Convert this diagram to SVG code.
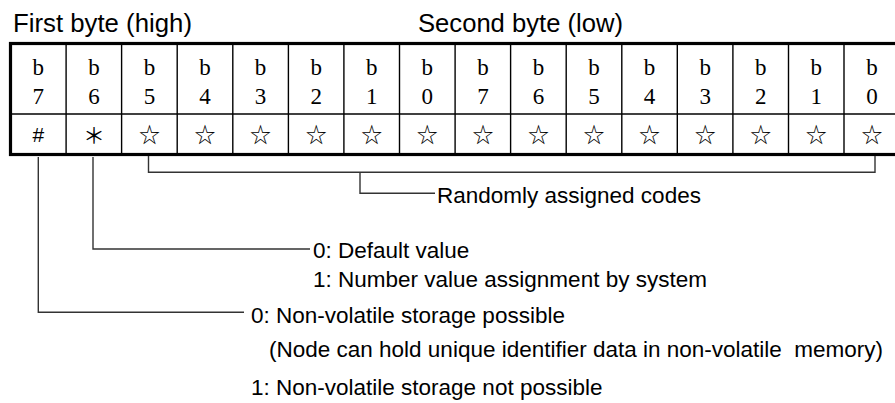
<svg xmlns="http://www.w3.org/2000/svg" width="895" height="403" viewBox="0 0 895 403">
<style>
.t{font-family:"Liberation Sans",Arial,sans-serif;fill:#000}
.title{font-size:25px}
.lbl{font-size:22.5px}
.bit{font-family:"Liberation Serif","Times New Roman",serif;font-size:23px;text-anchor:middle;fill:#000}
.sym{font-family:"Noto Sans CJK JP","DejaVu Sans",sans-serif;font-size:21px;text-anchor:middle;fill:#000;font-variant-emoji:text}
.grid{stroke:#000;stroke-width:1.4;fill:none}
.outer{stroke:#000;stroke-width:3.2;fill:none}
.conn{stroke:#333;stroke-width:1.4;fill:none}
</style>
<rect width="895" height="403" fill="#fff"/>
<g id="titles">
<text class="t title" x="13" y="32" textLength="179" lengthAdjust="spacingAndGlyphs">First byte (high)</text>
<text class="t title" x="418" y="32" textLength="205" lengthAdjust="spacingAndGlyphs">Second byte (low)</text>
</g>
<g id="table">
<g class="grid">
<line x1="10.5" y1="114" x2="899.6" y2="114"/>
<line x1="66.1" y1="43.5" x2="66.1" y2="154.5"/>
<line x1="121.6" y1="43.5" x2="121.6" y2="154.5"/>
<line x1="177.2" y1="43.5" x2="177.2" y2="154.5"/>
<line x1="232.8" y1="43.5" x2="232.8" y2="154.5"/>
<line x1="288.4" y1="43.5" x2="288.4" y2="154.5"/>
<line x1="343.9" y1="43.5" x2="343.9" y2="154.5"/>
<line x1="399.5" y1="43.5" x2="399.5" y2="154.5"/>
<line x1="455.1" y1="43.5" x2="455.1" y2="154.5"/>
<line x1="510.6" y1="43.5" x2="510.6" y2="154.5"/>
<line x1="566.2" y1="43.5" x2="566.2" y2="154.5"/>
<line x1="621.8" y1="43.5" x2="621.8" y2="154.5"/>
<line x1="677.3" y1="43.5" x2="677.3" y2="154.5"/>
<line x1="732.9" y1="43.5" x2="732.9" y2="154.5"/>
<line x1="788.5" y1="43.5" x2="788.5" y2="154.5"/>
<line x1="844.0" y1="43.5" x2="844.0" y2="154.5"/>
</g>
<rect class="outer" x="10.5" y="43.5" width="889.1" height="111"/>
<g id="bits">
<text class="bit" x="38.3" y="75">b</text><text class="bit" x="38.3" y="104">7</text>
<text class="bit" x="93.9" y="75">b</text><text class="bit" x="93.9" y="104">6</text>
<text class="bit" x="149.4" y="75">b</text><text class="bit" x="149.4" y="104">5</text>
<text class="bit" x="205.0" y="75">b</text><text class="bit" x="205.0" y="104">4</text>
<text class="bit" x="260.6" y="75">b</text><text class="bit" x="260.6" y="104">3</text>
<text class="bit" x="316.2" y="75">b</text><text class="bit" x="316.2" y="104">2</text>
<text class="bit" x="371.7" y="75">b</text><text class="bit" x="371.7" y="104">1</text>
<text class="bit" x="427.3" y="75">b</text><text class="bit" x="427.3" y="104">0</text>
<text class="bit" x="482.9" y="75">b</text><text class="bit" x="482.9" y="104">7</text>
<text class="bit" x="538.4" y="75">b</text><text class="bit" x="538.4" y="104">6</text>
<text class="bit" x="594.0" y="75">b</text><text class="bit" x="594.0" y="104">5</text>
<text class="bit" x="649.6" y="75">b</text><text class="bit" x="649.6" y="104">4</text>
<text class="bit" x="705.2" y="75">b</text><text class="bit" x="705.2" y="104">3</text>
<text class="bit" x="760.7" y="75">b</text><text class="bit" x="760.7" y="104">2</text>
<text class="bit" x="816.3" y="75">b</text><text class="bit" x="816.3" y="104">1</text>
<text class="bit" x="871.9" y="75">b</text><text class="bit" x="871.9" y="104">0</text>
</g>
<g id="symbols">
<text class="sym" x="38.3" y="142" style="font-family:'Liberation Sans',sans-serif;font-size:21px">#</text>
<text class="sym" x="93.9" y="143" style="font-size:22px">＊</text>
<text class="sym" x="149.4" y="142">☆︎</text>
<text class="sym" x="205.0" y="142">☆︎</text>
<text class="sym" x="260.6" y="142">☆︎</text>
<text class="sym" x="316.2" y="142">☆︎</text>
<text class="sym" x="371.7" y="142">☆︎</text>
<text class="sym" x="427.3" y="142">☆︎</text>
<text class="sym" x="482.9" y="142">☆︎</text>
<text class="sym" x="538.4" y="142">☆︎</text>
<text class="sym" x="594.0" y="142">☆︎</text>
<text class="sym" x="649.6" y="142">☆︎</text>
<text class="sym" x="705.2" y="142">☆︎</text>
<text class="sym" x="760.7" y="142">☆︎</text>
<text class="sym" x="816.3" y="142">☆︎</text>
<text class="sym" x="871.9" y="142">☆︎</text>
</g>
</g>
<g id="connectors">
<polyline class="conn" points="148.5,156 148.5,172.3 875,172.3 875,156"/>
<polyline class="conn" points="360,172.3 360,193.3 435,193.3"/>
<polyline class="conn" points="93,157 93,249 310,249"/>
<polyline class="conn" points="38.3,157 38.3,312.3 244,312.3"/>
</g>
<g id="note-random">
<text class="t lbl" x="437" y="203">Randomly assigned codes</text>
</g>
<g id="note-b6">
<text class="t lbl" x="313" y="258">0: Default value</text>
<text class="t lbl" x="313" y="287">1: Number value assignment by system</text>
</g>
<g id="note-b7">
<text class="t lbl" x="251" y="323">0: Non-volatile storage possible</text>
<text class="t lbl" x="269" y="357" xml:space="preserve">(Node can hold unique identifier data in non-volatile  memory)</text>
<text class="t lbl" x="251" y="395">1: Non-volatile storage not possible</text>
</g>
</svg>
